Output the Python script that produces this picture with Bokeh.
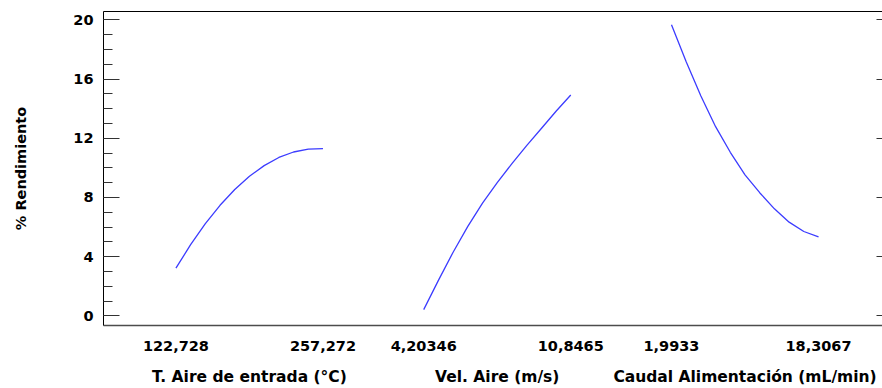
from bokeh.plotting import figure
from bokeh.models import Range1d, LinearAxis, FixedTicker, SingleIntervalTicker
from bokeh.embed import file_html
from bokeh.resources import INLINE

# Factors of the main-effects plot
factor_names = ["T. Aire de entrada (°C)", "Vel. Aire (m/s)", "Caudal Alimentación (mL/min)"]
low_labels = ["122,728", "4,20346", "1,9933"]
high_labels = ["257,272", "10,8465", "18,3067"]
low_values = [122.728, 4.20346, 1.9933]
high_values = [257.272, 10.8465, 18.3067]

# Predicted % yield along each factor
temp_x = [122.728, 136.18, 149.64, 163.09, 176.55, 190.00, 203.45, 216.91, 230.36, 243.82, 257.272]
temp_y = [3.22, 4.81, 6.23, 7.47, 8.54, 9.43, 10.15, 10.70, 11.07, 11.27, 11.30]

vel_x = [4.20346, 4.8678, 5.5321, 6.1964, 6.8607, 7.5250, 8.1893, 8.8536, 9.5179, 10.1822, 10.8465]
vel_y = [0.42, 2.40, 4.30, 6.05, 7.62, 9.00, 10.28, 11.50, 12.66, 13.82, 14.92]

flow_x = [1.9933, 3.6246, 5.2560, 6.8873, 8.5187, 10.1500, 11.7813, 13.4127, 15.0440, 16.6754, 18.3067]
flow_y = [19.66, 17.17, 14.85, 12.78, 11.05, 9.53, 8.32, 7.23, 6.33, 5.70, 5.34]

curves = [(temp_x, temp_y), (vel_x, vel_y), (flow_x, flow_y)]

# Layout of the shared horizontal axis: each factor spans SPAN units,
# consecutive factors start STEP units apart.
SPAN = 200
STEP = 337
X_START, X_END = -98.5, 961.0
Y_START, Y_END = -0.65, 20.56

FONT = "DejaVu Sans"
LINE_COLOR = "#3c3cff"

p = figure(width=882, height=388, output_backend="svg", toolbar_location=None,
           x_range=Range1d(X_START, X_END), y_range=Range1d(Y_START, Y_END),
           min_border_left=103, min_border_right=0, min_border_top=11, min_border_bottom=0,
           background_fill_color="white", border_fill_color="white")
p.outline_line_color = None
p.grid.visible = False

# One horizontal range per factor, placed over its slot of the shared axis
for i, (lo, hi) in enumerate(zip(low_values, high_values)):
    start = lo + (X_START - i * STEP) / SPAN * (hi - lo)
    end = lo + (X_END - i * STEP) / SPAN * (hi - lo)
    p.extra_x_ranges[f"f{i}"] = Range1d(start, end)

for i, (xs, ys) in enumerate(curves):
    p.line(xs, ys, x_range_name=f"f{i}", line_color=LINE_COLOR, line_width=1.3,
           line_join="round")

# Left axis with inward ticks
ya = p.yaxis[0]
ya.ticker = SingleIntervalTicker(interval=4, num_minor_ticks=4)
ya.axis_label = "% Rendimiento"
ya.axis_label_text_font = FONT
ya.axis_label_text_font_style = "bold"
ya.axis_label_text_font_size = "14.5px"
ya.axis_label_text_color = "black"
ya.axis_label_standoff = 41
ya.major_label_text_font = FONT
ya.major_label_text_font_style = "bold"
ya.major_label_text_font_size = "14.5px"
ya.major_label_text_color = "black"
ya.major_label_standoff = 10
ya.axis_line_color = "black"
ya.major_tick_in = 16
ya.major_tick_out = 0
ya.minor_tick_in = 9
ya.minor_tick_out = 0
ya.major_tick_line_color = "#333333"
ya.minor_tick_line_color = "#333333"

# Bottom axis: low/high level of each factor
tick_pos = []
overrides = {}
for i in range(3):
    a, b = i * STEP, i * STEP + SPAN
    tick_pos += [a, b]
    overrides[a] = low_labels[i]
    overrides[b] = high_labels[i]

xa = p.xaxis[0]
xa.ticker = FixedTicker(ticks=tick_pos)
xa.major_label_overrides = overrides
xa.major_label_text_font = FONT
xa.major_label_text_font_style = "bold"
xa.major_label_text_font_size = "14.5px"
xa.major_label_text_color = "black"
xa.major_label_standoff = 15
xa.major_tick_in = 0
xa.major_tick_out = 0
xa.minor_tick_in = 0
xa.minor_tick_out = 0
xa.axis_line_color = "#4d4d4d"
xa.axis_line_width = 1.5

# Second row below: factor names centred under each slot
name_pos = [i * STEP + SPAN // 2 for i in range(3)]
names = LinearAxis(ticker=FixedTicker(ticks=name_pos),
                   major_label_overrides={pos: n for pos, n in zip(name_pos, factor_names)},
                   major_label_text_font=FONT, major_label_text_font_style="bold",
                   major_label_text_font_size="15.5px", major_label_text_color="black",
                   major_label_text_line_height=0.75,
                   major_label_standoff=14,
                   major_tick_in=0, major_tick_out=0, minor_tick_in=0, minor_tick_out=0,
                   axis_line_color=None)
p.add_layout(names, "below")

# Top border
top = LinearAxis(ticker=FixedTicker(ticks=[]), major_tick_in=0, major_tick_out=0,
                 minor_tick_in=0, minor_tick_out=0, major_label_standoff=0,
                 axis_line_color="black")
p.add_layout(top, "above")

# Right side: short inward ticks only
right = LinearAxis(ticker=FixedTicker(ticks=[0, 4, 8, 12, 16, 20]),
                   major_label_overrides={v: "" for v in [0, 4, 8, 12, 16, 20]},
                   major_label_standoff=0, major_label_text_font_size="1px",
                   major_tick_in=6, major_tick_out=0, minor_tick_in=0, minor_tick_out=0,
                   major_tick_line_color="#333333", axis_line_color=None)
p.add_layout(right, "right")

open("out.html", "w").write(file_html(p, INLINE))
